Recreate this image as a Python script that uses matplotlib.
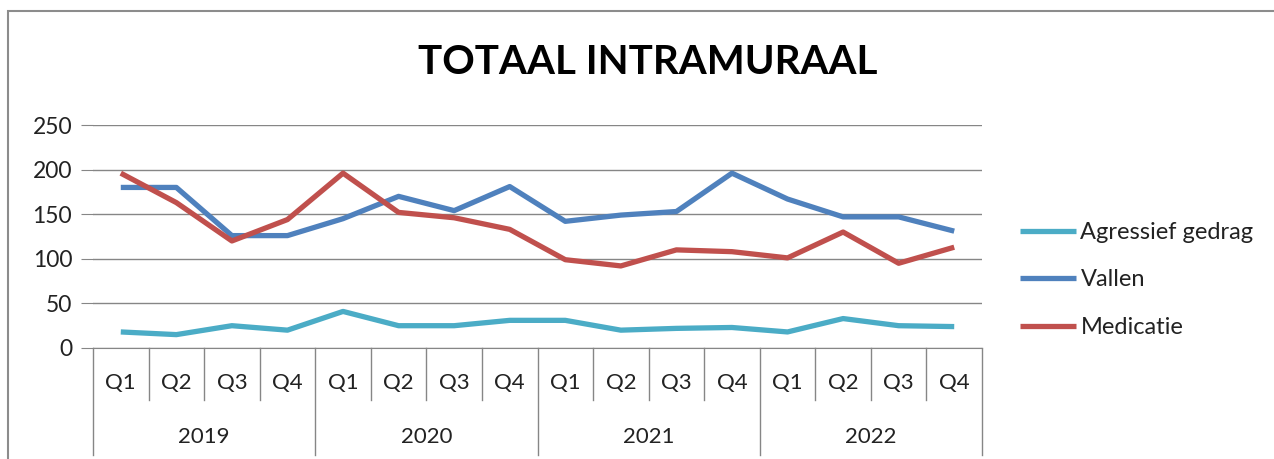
import matplotlib
matplotlib.use("Agg")
import matplotlib.pyplot as plt
from matplotlib.patches import Rectangle

plt.rcParams['font.family'] = ['Lato', 'DejaVu Sans']

# data
years = ["2019", "2020", "2021", "2022"]
quarters = ["Q1", "Q2", "Q3", "Q4"]
agressief = [18, 15, 25, 20, 41, 25, 25, 31, 31, 20, 22, 23, 18, 33, 25, 24]
vallen = [180, 180, 126, 126, 145, 170, 154, 181, 142, 149, 153, 196, 167, 147, 147, 131]
medicatie = [196, 163, 120, 144, 196, 152, 146, 133, 99, 92, 110, 108, 101, 130, 95, 113]
y_ticks = [0, 50, 100, 150, 200, 250]

fig = plt.figure(figsize=(12.74, 4.59), dpi=100)
fig.patches.append(Rectangle((8 / 1274, -0.1), 1.2, 1 - 11 / 459 + 0.1,
                             transform=fig.transFigure, fill=False,
                             edgecolor="#8c8c8c", linewidth=1.5))

ax = fig.add_axes([93 / 1274, 1 - 348 / 459, 889 / 1274, 223 / 459])
n = len(vallen)
x = list(range(n))

ax.plot(x, agressief, color="#4BACC6", lw=3.8, label="Agressief gedrag", solid_capstyle="butt")
ax.plot(x, vallen, color="#4F81BD", lw=3.8, label="Vallen", solid_capstyle="butt")
ax.plot(x, medicatie, color="#C0504D", lw=3.8, label="Medicatie", solid_capstyle="butt")

ax.set_xlim(-0.5, n - 0.5)
ax.set_ylim(0, 250)
ax.set_yticks(y_ticks)
ax.tick_params(axis="y", length=9, color="#868686", labelsize=16.5, pad=6)
ax.set_yticklabels([str(t) for t in y_ticks], color="#222222")
ax.yaxis.grid(True, color="#868686", lw=1)
ax.set_axisbelow(True)
for s in ["top", "right", "left"]:
    ax.spines[s].set_visible(False)
ax.spines["bottom"].set_color("#868686")
ax.set_xticks([])

# two-level category axis
tr = ax.get_xaxis_transform()
for i in range(n + 1):
    bottom = -0.48 if i % 4 == 0 else -0.235
    ax.plot([i - 0.5, i - 0.5], [0, bottom], transform=tr, color="#868686",
            lw=1, clip_on=False)
for i in range(n):
    ax.text(i, -0.155, quarters[i % 4], transform=tr, ha="center", va="center",
            fontsize=16, color="#222222")
for j, yr in enumerate(years):
    ax.text(j * 4 + 1.5, -0.40, yr, transform=tr, ha="center", va="center",
            fontsize=16, color="#222222")

fig.text(648 / 1274, 1 - 63 / 459, "TOTAAL INTRAMURAAL", ha="center", va="center",
         fontsize=29, fontweight="bold", color="black")

leg = ax.legend(loc="center left", bbox_to_anchor=(1.043, 0.305),
                bbox_transform=ax.transAxes, frameon=False, borderpad=0,
                borderaxespad=0, fontsize=17, handlelength=2.35,
                handletextpad=0.2, labelspacing=1.12)
for t in leg.get_texts():
    t.set_color("#222222")

fig.savefig("out.png", dpi=100)
